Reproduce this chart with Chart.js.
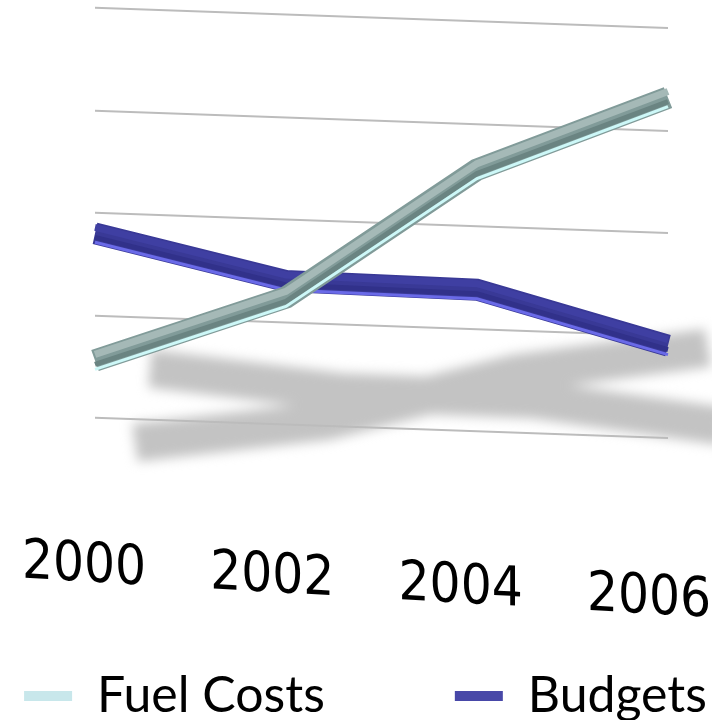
<!DOCTYPE html>
<html><head><meta charset="utf-8">
<script src="https://cdn.jsdelivr.net/npm/chart.js@4.4.1/dist/chart.umd.min.js"></script>
<style>html,body{margin:0;padding:0;background:#fff}#wrap{width:712px;height:720px;position:relative}</style>
</head><body><div id="wrap"><canvas id="c"></canvas></div>
<script>
// ---- data ----
const categories = ['2000', '2002', '2004', '2006'];
const seriesNames = ['Fuel Costs', 'Budgets'];
const fuelCosts = [14, 31, 63.8, 83];
const budgets = [45, 35, 34.5, 22.5];
const valueRange = [0, 100];
const gridStep = 25;

// ---- style ----
const SHEAR = 0.035, SHEAR_X0 = 100;                 // perspective tilt of the plot
const LABEL_M = [0.986, 0.0562, 0, 1, -9.67, -5.51];  // tilt for the year labels
const SHADOW_B = 0.406;
const styles = [
  {legend: '#c8e7eb', face: '#819b99', top: '#a5b9b7', dark: '#6a8482', edge: '#cdf8f8', shadowDx: 40, shadowA: 295},
  {legend: '#4848a8', face: '#393996', top: '#3f3fa2', dark: '#31318a', edge: '#6a6ae8', shadowDx: 55, shadowA: 272}
];
const LABEL_FONT = "'Liberation Sans Narrow', 'DejaVu Sans Condensed', 'Lato', sans-serif";
const LEGEND_FONT = "'Lato', sans-serif";

function patchLayers(chart) {
  const ctx = chart.ctx;
  const xs = chart.scales.x;
  if (xs && !xs.$tilted) {
    const orig = xs.drawLabels;
    xs._computeLabelArea = function () { return undefined; };
    xs.drawLabels = function (ca) {
      ctx.save(); ctx.setTransform(chart.$base); ctx.transform(...LABEL_M);
      orig.call(this, ca); ctx.restore();
    };
    xs.$tilted = true;
  }
  const lg = chart.legend;
  if (lg && !lg.$flat) {
    const o = lg.draw;
    lg.draw = function (...a) { ctx.save(); ctx.setTransform(chart.$base); o.apply(this, a); ctx.restore(); };
    lg.$flat = true;
  }
}

function drawShadows(chart) {
  const ctx = chart.ctx;
  ctx.save();
  ctx.filter = 'blur(6px)';
  ctx.strokeStyle = '#c3c3c3';
  ctx.lineWidth = 38; ctx.lineJoin = 'miter'; ctx.lineCap = 'butt';
  ctx.beginPath();
  chart.data.datasets.forEach((ds, i) => {
    const st = styles[i];
    chart.getDatasetMeta(i).data.forEach((p, j) => {
      const sx = p.x + st.shadowDx, sy = st.shadowA + SHADOW_B * p.y;
      j ? ctx.lineTo(sx, sy) : ctx.moveTo(sx, sy);
    });
  });
  ctx.stroke();
  ctx.restore();
}

function drawBevel(chart, meta, i) {
  const st = styles[i], ctx = chart.ctx, pts = meta.data;
  const stroke = (dy, w, color) => {
    ctx.beginPath();
    pts.forEach((p, j) => j ? ctx.lineTo(p.x, p.y + dy) : ctx.moveTo(p.x, p.y + dy));
    ctx.lineWidth = w; ctx.strokeStyle = color; ctx.lineJoin = 'miter'; ctx.lineCap = 'butt';
    ctx.stroke();
  };
  ctx.save();
  stroke(-6, 7, st.top);
  stroke(4, 5, st.dark);
  stroke(9, 3, st.edge);
  ctx.restore();
}

const perspective = {
  id: 'perspective',
  beforeDraw(chart) {
    const ctx = chart.ctx;
    chart.$base = ctx.getTransform();
    patchLayers(chart);
    ctx.save();
    ctx.transform(1, SHEAR, 0, 1, 0, -SHEAR * SHEAR_X0);
    drawShadows(chart);
  },
  afterDatasetDraw(chart, args) { drawBevel(chart, args.meta, args.index); },
  afterDraw(chart) { chart.ctx.restore(); }
};

new Chart(document.getElementById('c'), {
  type: 'line',
  data: {
    labels: categories,
    datasets: [
      {label: seriesNames[0], data: fuelCosts, borderColor: styles[0].face, backgroundColor: styles[0].legend,
       borderWidth: 22, pointRadius: 0, tension: 0, fill: false, borderJoinStyle: 'miter', borderCapStyle: 'butt'},
      {label: seriesNames[1], data: budgets, borderColor: styles[1].face, backgroundColor: styles[1].legend,
       borderWidth: 22, pointRadius: 0, tension: 0, fill: false, borderJoinStyle: 'miter', borderCapStyle: 'butt'}
    ]
  },
  options: {
    responsive: true, maintainAspectRatio: false, animation: false,
    layout: {padding: {left: -110, right: -129, top: 8, bottom: -11}},
    plugins: {
      tooltip: {enabled: false},
      legend: {
        position: 'bottom', align: 'center',
        labels: {
          font: {family: LEGEND_FONT, size: 50}, color: '#000', boxWidth: 48, boxHeight: 10, padding: 130,
          generateLabels(chart) {
            return chart.data.datasets.map((ds, i) => ({
              text: ds.label, fillStyle: styles[i].legend, strokeStyle: styles[i].legend,
              lineWidth: 0, hidden: false, datasetIndex: i, fontColor: '#000'
            }));
          }
        }
      }
    },
    scales: {
      x: {
        type: 'category', offset: false,
        grid: {display: false}, border: {display: false},
        ticks: {font: {family: LABEL_FONT, size: 55}, color: '#000', padding: 108, maxRotation: 0, autoSkip: false},
        afterFit(s) { s.paddingLeft = 95; s.paddingRight = 44; s.height = 123; }
      },
      y: {
        min: valueRange[0], max: valueRange[1],
        ticks: {display: false, stepSize: gridStep},
        grid: {color: '#bcbcbc', lineWidth: 2, drawTicks: false},
        border: {display: false},
        afterFit(s) { s.width = 0; }
      }
    }
  },
  plugins: [perspective]
});
</script>
</body></html>
